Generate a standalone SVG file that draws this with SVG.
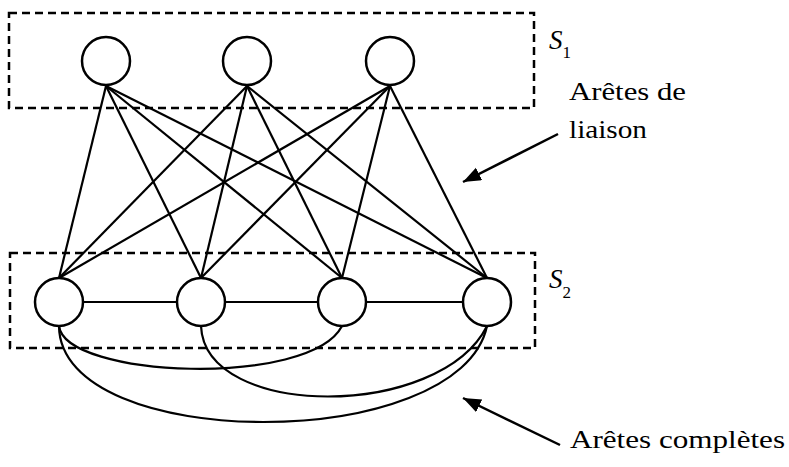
<svg xmlns="http://www.w3.org/2000/svg" width="789" height="467" viewBox="0 0 789 467">
<style>
.box{fill:none;stroke:#000;stroke-width:2.5;stroke-dasharray:8 5}
.node{fill:#fff;stroke:#000;stroke-width:2.5}
.edge{fill:none;stroke:#000;stroke-width:2.2}
.arrow{fill:none;stroke:#000;stroke-width:2.5}
text{font-family:'Liberation Serif','DejaVu Serif','Times New Roman',serif;fill:#000}
.lbl{font-size:26px}
.set{font-size:27px;font-style:italic}
.sub{font-size:17px}
</style>
<defs>
<marker id="ah" markerUnits="userSpaceOnUse" markerWidth="20" markerHeight="16" refX="18" refY="7" orient="auto">
<path d="M0,0 L18,7 L0,14 z" fill="#000"/>
</marker>
</defs>
<rect class="box" x="9" y="13" width="525" height="95"/>
<rect class="box" x="10" y="253" width="525" height="95"/>
<g id="connectors">
<line class="edge" x1="106" y1="86" x2="59" y2="278"/>
<line class="edge" x1="106" y1="86" x2="201" y2="278"/>
<line class="edge" x1="106" y1="86" x2="342" y2="278"/>
<line class="edge" x1="106" y1="86" x2="487" y2="278"/>
<line class="edge" x1="247" y1="86" x2="59" y2="278"/>
<line class="edge" x1="247" y1="86" x2="201" y2="278"/>
<line class="edge" x1="247" y1="86" x2="342" y2="278"/>
<line class="edge" x1="247" y1="86" x2="487" y2="278"/>
<line class="edge" x1="390" y1="86" x2="59" y2="278"/>
<line class="edge" x1="390" y1="86" x2="201" y2="278"/>
<line class="edge" x1="390" y1="86" x2="342" y2="278"/>
<line class="edge" x1="390" y1="86" x2="487" y2="278"/>
<line class="edge" x1="83" y1="302" x2="177" y2="302"/>
<line class="edge" x1="225" y1="302" x2="318" y2="302"/>
<line class="edge" x1="366" y1="302" x2="463" y2="302"/>
<path class="edge" d="M59,326 C65,378 310,388 342,326"/>
<path class="edge" d="M201,326 C205,420 440,420 487,326"/>
<path class="edge" d="M59,326 C60,454 460,454 487,326"/>
<line class="arrow" x1="558" y1="134" x2="463" y2="182" marker-end="url(#ah)"/>
<line class="arrow" x1="560" y1="445" x2="463" y2="398" marker-end="url(#ah)"/>
</g>
<g id="t1"><circle class="node" cx="106" cy="61" r="24"/></g>
<g id="t2"><circle class="node" cx="247" cy="61" r="24"/></g>
<g id="t3"><circle class="node" cx="390" cy="61" r="24"/></g>
<g id="b1"><circle class="node" cx="59" cy="302" r="24"/></g>
<g id="b2"><circle class="node" cx="201" cy="302" r="24"/></g>
<g id="b3"><circle class="node" cx="342" cy="302" r="24"/></g>
<g id="b4"><circle class="node" cx="487" cy="302" r="24"/></g>
<g id="labels">
<text x="549" y="49"><tspan class="set">S</tspan><tspan class="sub" dy="9">1</tspan></text>
<text x="549" y="288"><tspan class="set">S</tspan><tspan class="sub" dy="10">2</tspan></text>
<text class="lbl" x="569" y="100" textLength="117" lengthAdjust="spacingAndGlyphs">Arêtes de</text>
<text class="lbl" x="569" y="138" textLength="78" lengthAdjust="spacingAndGlyphs">liaison</text>
<text class="lbl" x="570" y="448" textLength="215" lengthAdjust="spacingAndGlyphs">Arêtes complètes</text>
</g>
</svg>
